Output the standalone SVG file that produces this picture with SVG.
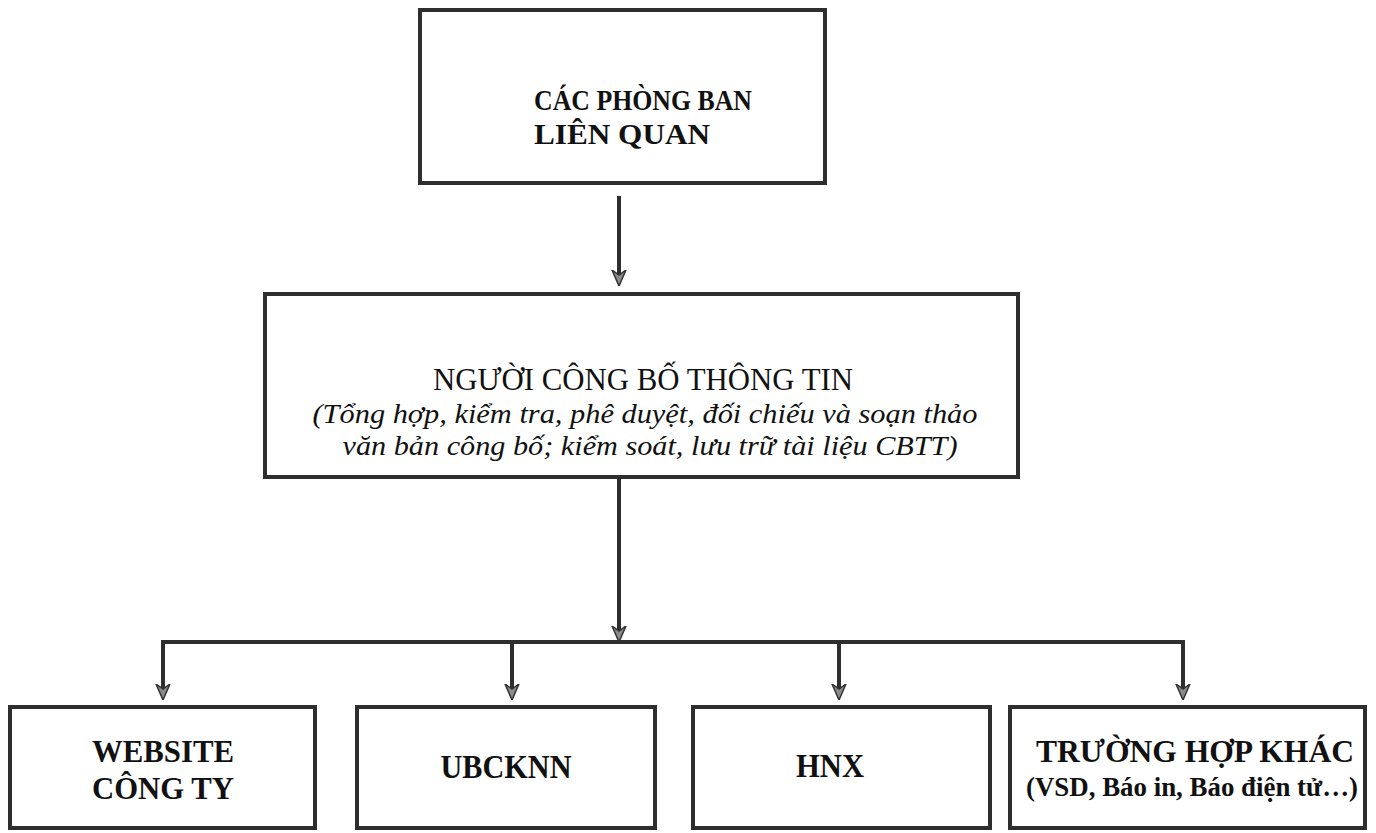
<svg xmlns="http://www.w3.org/2000/svg" width="1376" height="833" viewBox="0 0 1376 833">
<defs>
<style>
.box{fill:#ffffff;stroke:#2e2e2e;stroke-width:4}
.t{font-family:"Liberation Serif","DejaVu Serif",serif;fill:#111;text-anchor:middle}
.b{font-weight:bold}
.i{font-style:italic}
.c{fill:none;stroke:#2e2e2e;stroke-width:4}
</style>
<marker id="arr" viewBox="0 0 16 16" refX="5" refY="8" markerWidth="16" markerHeight="16" markerUnits="userSpaceOnUse" orient="auto">
<path d="M0,1 L16,8 L0,15 L5,8 Z" fill="#8a8a8a" stroke="#333" stroke-width="1.5" stroke-linejoin="miter"/>
</marker>
</defs>
<rect width="1376" height="833" fill="#ffffff"/>

<g id="connectors">
<path class="c" d="M619,196 V275" marker-end="url(#arr)"/>
<path class="c" d="M619,478 V631" marker-end="url(#arr)"/>
<path class="c" d="M161,642 H1185"/>
<path class="c" d="M163,642 V689" marker-end="url(#arr)"/>
<path class="c" d="M512,642 V689" marker-end="url(#arr)"/>
<path class="c" d="M839,642 V689" marker-end="url(#arr)"/>
<path class="c" d="M1183,642 V689" marker-end="url(#arr)"/>
</g>

<g id="node-phong-ban">
<rect class="box" x="420" y="10" width="405" height="173"/>
<text class="t b" x="643" y="110" font-size="30" textLength="218" lengthAdjust="spacingAndGlyphs">CÁC PHÒNG BAN</text>
<text class="t b" x="622" y="144" font-size="30" textLength="176" lengthAdjust="spacingAndGlyphs">LIÊN QUAN</text>
</g>

<g id="node-nguoi-cbtt">
<rect class="box" x="265" y="294" width="753" height="183"/>
<text class="t" x="643" y="390" font-size="31" textLength="420" lengthAdjust="spacingAndGlyphs">NGƯỜI CÔNG BỐ THÔNG TIN</text>
<text class="t i" x="645" y="423" font-size="28" textLength="665" lengthAdjust="spacingAndGlyphs">(Tổng hợp, kiểm tra, phê duyệt, đối chiếu và soạn thảo</text>
<text class="t i" x="650" y="455" font-size="28" textLength="615" lengthAdjust="spacingAndGlyphs">văn bản công bố; kiểm soát, lưu trữ tài liệu CBTT)</text>
</g>

<g id="node-website">
<rect class="box" x="10" y="707" width="305" height="121"/>
<text class="t b" x="163" y="762" font-size="32" textLength="142" lengthAdjust="spacingAndGlyphs">WEBSITE</text>
<text class="t b" x="163" y="799" font-size="32" textLength="142" lengthAdjust="spacingAndGlyphs">CÔNG TY</text>
</g>

<g id="node-ubcknn">
<rect class="box" x="357" y="707" width="298" height="121"/>
<text class="t b" x="506" y="778" font-size="33" textLength="131" lengthAdjust="spacingAndGlyphs">UBCKNN</text>
</g>

<g id="node-hnx">
<rect class="box" x="693" y="707" width="297" height="121"/>
<text class="t b" x="830" y="777" font-size="33" textLength="68" lengthAdjust="spacingAndGlyphs">HNX</text>
</g>

<g id="node-khac">
<rect class="box" x="1010" y="707" width="355" height="121"/>
<text class="t b" x="1195" y="762" font-size="32" textLength="318" lengthAdjust="spacingAndGlyphs">TRƯỜNG HỢP KHÁC</text>
<text class="t b" x="1192" y="796" font-size="28" textLength="332" lengthAdjust="spacingAndGlyphs">(VSD, Báo in, Báo điện tử…)</text>
</g>
</svg>
